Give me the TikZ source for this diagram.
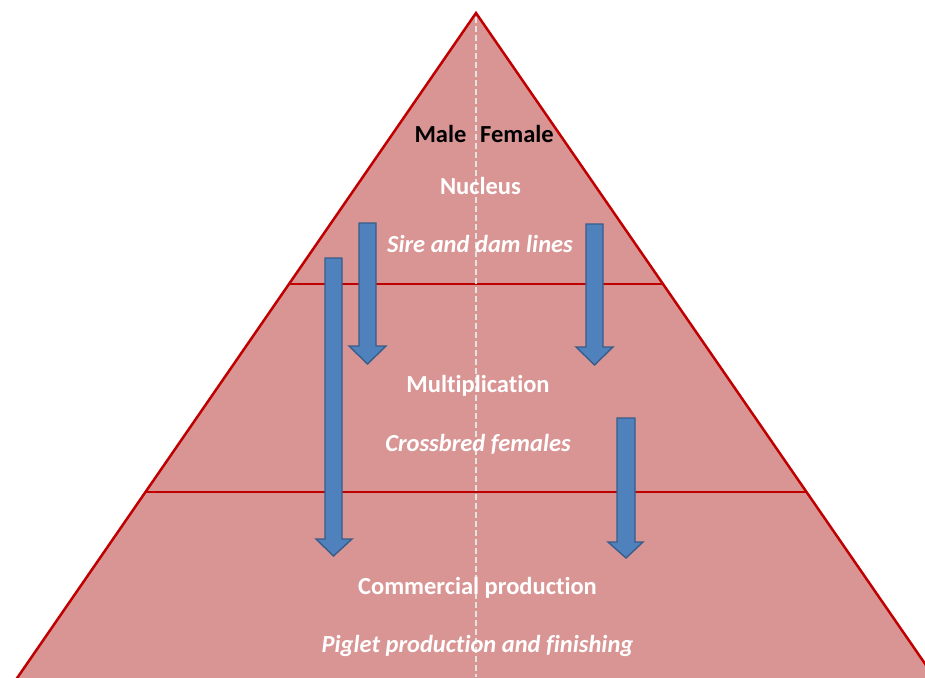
\documentclass[tikz,border=0pt]{standalone}
\usepackage{fontspec}
\setmainfont{Carlito}[Ligatures=NoCommon]
\definecolor{pyrfill}{HTML}{D99594}
\definecolor{pyredge}{HTML}{C00000}
\definecolor{arrfill}{HTML}{4F81BD}
\definecolor{arredge}{HTML}{385D8A}
\definecolor{dashgray}{HTML}{E3E3E3}
\tikzset{
  levelline/.style={draw=pyredge, line width=2.5pt},
  blockarrow/.style={fill=arrfill, draw=arredge, line width=1.4pt, line join=miter},
  titletext/.style={text=white, font=\bfseries\fontsize{24.5}{28}\selectfont, inner sep=0pt},
  subtext/.style={text=white, font=\bfseries\itshape\fontsize{24.5}{28}\selectfont, inner sep=0pt},
  sextext/.style={text=black, font=\bfseries\fontsize{24.5}{28}\selectfont, inner sep=0pt}
}
\begin{document}
\begin{tikzpicture}[x=1pt,y=-1pt]
\useasboundingbox (0,0) rectangle (925,677);
\clip (0,0) rectangle (925,677);
\coordinate (apex) at (476,13);
\coordinate (bl) at (13,684);
\coordinate (br) at (939,684);
\fill[pyrfill] (apex) -- (bl) -- (br) -- cycle;
\draw[pyredge, line width=2.5pt, line join=miter] (bl) -- (apex) -- (br);
% level lines
\coordinate (l1a) at (289,284); \coordinate (l1b) at (663,284);
\coordinate (l2a) at (146,492); \coordinate (l2b) at (806,492);
\draw[levelline] (l1a) -- (l1b);
\draw[levelline] (l2a) -- (l2b);
% centre dashed line
\coordinate (dtop) at (476,17);
\coordinate (dbot) at (476,677);
\draw[dashgray, line width=2.4pt, dash pattern=on 6pt off 3pt] (dtop) -- (dbot);
% arrows
\path[blockarrow] (325,258) -- (342,258) -- (342,539) -- (352,539) -- (333.5,556) -- (316,539) -- (325,539) -- cycle;
\path[blockarrow] (359,223) -- (376,223) -- (376,346) -- (386,346) -- (367.5,364) -- (349,346) -- (359,346) -- cycle;
\path[blockarrow] (586,224) -- (603,224) -- (603,347) -- (613,347) -- (594.5,365) -- (576,347) -- (586,347) -- cycle;
\path[blockarrow] (617,418) -- (635,418) -- (635,542) -- (643,542) -- (626,558) -- (608,542) -- (617,542) -- cycle;
% texts
\node[sextext] (male) at (440.5,134) {Male};
\node[sextext] (female) at (517,134) {Female};
\node[titletext] (nucleus) at (480.5,186) {Nucleus};
\node[subtext] (sire) at (480,244) {Sire and dam lines};
\node[titletext] (mult) at (478,385.5) {Multiplication};
\node[subtext] (cross) at (478,444) {Crossbred females};
\node[titletext] (comm) at (477.5,587.5) {Commercial production};
\node[subtext] (piglet) at (477.5,646) {Piglet production and finishing};
\end{tikzpicture}
\end{document}
